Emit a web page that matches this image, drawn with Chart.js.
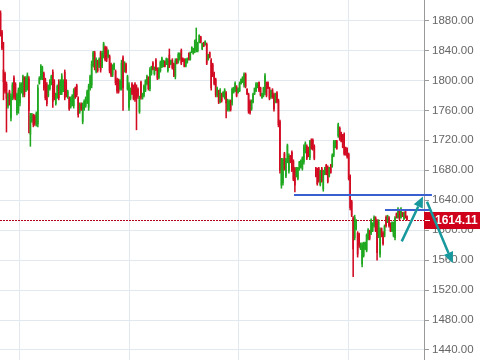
<!DOCTYPE html>
<html><head><meta charset="utf-8">
<script src="https://cdn.jsdelivr.net/npm/chart.js@4"></script>
<style>html,body{margin:0;padding:0;background:#fff}#c{display:block}</style>
</head><body>
<canvas id="c" width="480" height="360"></canvas>
<script>
// ---- data ----
const openP = [
1890,1865,1814,1809,1795,1766,1785,1750,1777,1803,
1795,1757,1760,1770,1785,1781,1803,1787,1790,1802,
1728,1746,1753,1752,1742,1742,1796,1802,1803,1809,
1801,1794,1780,1789,1796,1811,1798,1769,1779,1798,
1783,1784,1787,1811,1798,1778,1776,1765,1768,1766,
1789,1793,1776,1758,1768,1745,1762,1766,1771,1764,
1790,1794,1820,1837,1812,1825,1819,1837,1819,1832,
1844,1843,1832,1832,1821,1807,1815,1812,1801,1800,
1789,1790,1830,1813,1821,1789,1764,1776,1795,1792,
1795,1791,1788,1758,1797,1776,1780,1787,1796,1803,
1789,1809,1823,1809,1827,1815,1804,1813,1819,1819,
1825,1822,1813,1834,1822,1827,1821,1805,1828,1825,
1829,1840,1829,1828,1819,1824,1836,1828,1838,1836,
1839,1841,1840,1851,1858,1842,1850,1848,1848,1828,
1837,1827,1821,1809,1801,1780,1785,1772,1782,1779,
1777,1783,1761,1761,1772,1770,1784,1786,1791,1784,
1786,1796,1798,1794,1808,1788,1781,1772,1762,1771,
1782,1786,1791,1797,1790,1777,1780,1784,1796,1797,
1790,1778,1787,1781,1771,1783,1773,1745,1660,1663,
1702,1672,1692,1679,1699,1704,1692,1682,1672,1669,
1682,1684,1682,1691,1705,1712,1710,1697,1720,1720,
1712,1683,1681,1682,1661,1682,1655,1675,1687,1684,
1672,1687,1686,1700,1711,1719,1726,1736,1730,1727,
1728,1710,1709,1701,1672,1638,1616,1590,1602,1596,
1594,1575,1555,1566,1575,1573,1589,1599,1596,1599,
1606,1616,1612,1592,1568,1602,1596,1593,1617,1611,
1616,1609,1599,1593,1590,1622,1617,1627,1617,1623,
1615,1625,1618];
const highP = [
1893,1867,1851,1811,1798,1783,1787,1782,1797,1806,
1797,1783,1790,1797,1797,1807,1805,1805,1810,1805,
1756,1756,1755,1754,1758,1794,1805,1821,1819,1811,
1803,1797,1794,1801,1807,1814,1801,1783,1794,1801,
1801,1809,1801,1814,1801,1787,1778,1778,1781,1789,
1791,1795,1778,1770,1770,1770,1774,1778,1787,1795,
1807,1826,1839,1839,1830,1827,1830,1839,1839,1851,
1846,1845,1841,1834,1823,1821,1823,1814,1803,1802,
1801,1827,1833,1825,1823,1807,1797,1790,1797,1794,
1797,1794,1790,1779,1799,1783,1794,1801,1807,1805,
1817,1819,1825,1818,1829,1817,1817,1826,1831,1827,
1826,1830,1829,1842,1827,1829,1823,1829,1829,1837,
1837,1842,1830,1829,1829,1830,1837,1838,1845,1843,
1854,1870,1851,1861,1859,1850,1851,1853,1850,1835,
1838,1829,1823,1811,1803,1791,1787,1789,1783,1785,
1789,1785,1775,1774,1774,1790,1791,1798,1793,1790,
1798,1802,1805,1810,1810,1789,1783,1774,1774,1783,
1790,1797,1797,1798,1791,1783,1791,1809,1798,1798,
1791,1787,1789,1783,1783,1785,1775,1747,1696,1696,
1704,1696,1715,1702,1700,1706,1694,1684,1684,1684,
1692,1694,1698,1714,1718,1714,1711,1720,1722,1722,
1714,1684,1683,1684,1680,1684,1680,1684,1688,1686,
1684,1688,1702,1720,1720,1720,1743,1738,1731,1728,
1730,1711,1710,1703,1674,1640,1618,1620,1614,1598,
1596,1583,1583,1584,1584,1595,1602,1600,1615,1610,
1619,1618,1614,1614,1603,1603,1598,1607,1619,1620,
1618,1610,1611,1611,1618,1623,1630,1628,1630,1624,
1624,1627,1619];
const lowP = [
1859,1841,1774,1783,1731,1763,1767,1746,1774,1775,
1774,1754,1756,1766,1783,1778,1778,1785,1787,1730,
1712,1744,1738,1740,1739,1738,1795,1801,1801,1787,
1774,1766,1778,1787,1794,1764,1774,1767,1776,1774,
1781,1781,1785,1774,1778,1776,1760,1763,1766,1763,
1776,1778,1751,1756,1760,1742,1760,1764,1769,1760,
1787,1790,1818,1814,1810,1811,1817,1811,1817,1830,
1826,1825,1830,1810,1805,1805,1814,1794,1783,1783,
1787,1787,1760,1811,1810,1787,1760,1774,1781,1774,
1772,1734,1776,1756,1775,1775,1778,1785,1794,1787,
1786,1807,1814,1807,1813,1801,1802,1811,1817,1818,
1818,1821,1811,1817,1821,1815,1805,1802,1822,1823,
1827,1821,1825,1818,1818,1823,1827,1827,1837,1835,
1837,1838,1838,1850,1850,1841,1845,1847,1821,1827,
1830,1787,1805,1794,1778,1778,1769,1770,1771,1778,
1775,1750,1759,1759,1759,1767,1783,1785,1778,1783,
1785,1795,1797,1791,1790,1781,1756,1755,1760,1770,
1781,1785,1790,1785,1779,1776,1778,1781,1778,1789,
1774,1776,1776,1759,1770,1770,1738,1676,1656,1660,
1680,1670,1690,1676,1690,1678,1666,1651,1671,1667,
1680,1683,1680,1688,1703,1694,1698,1694,1708,1707,
1694,1671,1660,1664,1659,1664,1652,1674,1674,1663,
1671,1676,1684,1698,1710,1708,1724,1720,1718,1710,
1700,1700,1696,1667,1627,1618,1538,1587,1600,1564,
1577,1574,1551,1564,1574,1571,1587,1587,1594,1598,
1604,1598,1560,1590,1564,1591,1580,1591,1604,1610,
1604,1598,1598,1591,1587,1616,1616,1614,1616,1618,
1614,1616,1613];
const closeP = [
1862,1843,1798,1786,1776,1781,1770,1779,1794,1778,
1777,1781,1787,1794,1795,1805,1781,1803,1807,1760,
1752,1754,1741,1743,1756,1790,1803,1819,1817,1790,
1777,1769,1792,1799,1805,1772,1777,1781,1792,1777,
1798,1806,1799,1777,1781,1785,1762,1776,1779,1786,
1778,1781,1754,1768,1762,1767,1772,1776,1785,1792,
1805,1822,1837,1817,1828,1813,1828,1814,1836,1849,
1828,1827,1839,1813,1807,1819,1822,1797,1786,1785,
1799,1823,1790,1823,1812,1805,1794,1788,1783,1776,
1775,1778,1779,1777,1778,1782,1792,1799,1805,1789,
1814,1818,1815,1816,1815,1803,1815,1824,1829,1826,
1819,1829,1827,1819,1826,1817,1807,1826,1823,1835,
1836,1823,1826,1819,1828,1829,1828,1837,1844,1842,
1852,1855,1849,1860,1851,1849,1846,1852,1823,1834,
1831,1790,1807,1796,1781,1789,1771,1787,1773,1784,
1787,1770,1773,1772,1761,1788,1790,1796,1780,1789,
1796,1801,1804,1808,1792,1782,1759,1757,1772,1781,
1789,1795,1796,1787,1781,1782,1790,1806,1780,1790,
1776,1786,1778,1762,1781,1772,1741,1680,1693,1694,
1683,1694,1713,1699,1691,1680,1668,1660,1683,1683,
1691,1693,1696,1711,1716,1696,1699,1718,1710,1709,
1696,1672,1662,1666,1678,1666,1678,1683,1675,1665,
1683,1677,1700,1718,1719,1709,1741,1722,1719,1711,
1702,1701,1698,1669,1630,1620,1575,1617,1612,1568,
1580,1582,1580,1582,1583,1593,1600,1589,1613,1608,
1617,1600,1570,1611,1600,1592,1582,1605,1606,1619,
1606,1599,1610,1609,1616,1617,1628,1616,1628,1619,
1623,1617,1614.11];
const yTickValues = [1440,1480,1520,1560,1600,1640,1680,1720,1760,1800,1840,1880];
const xGridValues = [12.4, 86, 159.6, 233.2];           // period separators (candle index)
const hLines = [ {from:196.4, to:288.7, price:1647},    // blue levels
                 {from:257.3, to:288.1, price:1627} ];
const arrowsData = [ {x1:268.5, y1:1585, x2:282.7, y2:1645},
                     {x1:285.4, y1:1638, x2:302.6, y2:1556} ];

// ---- styles ----
const GREEN = '#1fa81f', RED = '#d20a22', GRID = '#e1e8ef', TEAL = '#17989c', BLUE = '#3a5fd0';

const idx = openP.map((_, i) => i);
const colors = idx.map(i => closeP[i] >= openP[i] ? GREEN : RED);
const lastPrice = closeP[closeP.length - 1];

function drawArrow(ctx, x1, y1, x2, y2) {
  const a = Math.atan2(y2 - y1, x2 - x1), hl = 11, hw = 5;
  const bx = x2 - hl * Math.cos(a), by = y2 - hl * Math.sin(a);
  ctx.strokeStyle = TEAL; ctx.lineWidth = 2.5; ctx.lineCap = 'butt';
  ctx.beginPath(); ctx.moveTo(x1, y1); ctx.lineTo(bx, by); ctx.stroke();
  ctx.fillStyle = TEAL; ctx.beginPath();
  ctx.moveTo(x2, y2);
  ctx.lineTo(bx + hw * Math.sin(a), by - hw * Math.cos(a));
  ctx.lineTo(bx - hw * Math.sin(a), by + hw * Math.cos(a));
  ctx.closePath(); ctx.fill();
}

const overlay = {
  id: 'overlay',
  beforeDatasetsDraw(chart) {
    const {ctx, chartArea: ca, scales: {y}} = chart;
    const py = Math.round(y.getPixelForValue(lastPrice)) + 0.5;
    ctx.save();
    ctx.strokeStyle = '#b5001c'; ctx.lineWidth = 1; ctx.setLineDash([2, 1]);
    ctx.beginPath(); ctx.moveTo(ca.left, py); ctx.lineTo(ca.right, py); ctx.stroke();
    ctx.restore();
  },
  afterDraw(chart) {
    const {ctx, chartArea: ca, scales: {x, y}} = chart;
    ctx.save();
    // blue horizontal levels
    ctx.strokeStyle = BLUE; ctx.lineWidth = 2;
    hLines.forEach(l => {
      const py = y.getPixelForValue(l.price);
      ctx.beginPath(); ctx.moveTo(x.getPixelForValue(l.from), py); ctx.lineTo(x.getPixelForValue(l.to), py); ctx.stroke();
    });
    // last price label
    const py = Math.round(y.getPixelForValue(lastPrice));
    ctx.fillStyle = '#d0021b';
    ctx.fillRect(ca.right, py - 8, chart.width - ca.right, 17);
    ctx.strokeStyle = '#fff'; ctx.lineWidth = 1;
    ctx.beginPath(); ctx.moveTo(ca.right + 1, py + 0.5); ctx.lineTo(ca.right + 6, py + 0.5); ctx.stroke();
    ctx.fillStyle = '#fff'; ctx.font = 'bold 12px "Liberation Sans", Arial, sans-serif';
    ctx.textBaseline = 'middle'; ctx.textAlign = 'left';
    ctx.fillText(lastPrice.toFixed(2), ca.right + 11, py + 1);
    // arrows
    arrowsData.forEach(a => drawArrow(ctx,
      x.getPixelForValue(a.x1), y.getPixelForValue(a.y1),
      x.getPixelForValue(a.x2), y.getPixelForValue(a.y2)));
    ctx.restore();
  }
};

new Chart(document.getElementById('c'), {
  type: 'bar',
  data: {
    datasets: [
      { data: idx.map(i => ({x: i, y: [lowP[i], highP[i]]})), backgroundColor: colors,
        barThickness: 0.9, grouped: false, borderWidth: 0 },
      { data: idx.map(i => ({x: i, y: [openP[i], closeP[i]]})), backgroundColor: colors,
        barThickness: 1, grouped: false, borderWidth: 0 }
    ]
  },
  options: {
    responsive: false, animation: false, devicePixelRatio: 1,
    layout: { padding: 0 },
    plugins: { legend: {display: false}, tooltip: {enabled: false} },
    scales: {
      x: {
        type: 'linear', min: -0.33, max: 283.4, offset: false,
        ticks: {display: false}, border: {display: false},
        grid: {color: GRID, drawTicks: false, offset: false, lineWidth: 1},
        afterBuildTicks: s => { s.ticks = xGridValues.map(v => ({value: v})); },
        afterFit: s => { s.height = 0; s.paddingLeft = 0; s.paddingRight = 0; }
      },
      y: {
        type: 'linear', position: 'right', min: 1426.6, max: 1907.4,
        afterBuildTicks: s => { s.ticks = yTickValues.map(v => ({value: v})); },
        ticks: { color: '#666', padding: 3,
          font: {family: '"Liberation Sans", Arial, sans-serif', size: 11.5},
          callback: v => Number(v).toFixed(2) },
        grid: {color: GRID, tickColor: '#999', tickLength: 5, lineWidth: 1},
        border: {display: true, color: '#999'},
        afterFit: s => { s.width = 56; s.paddingTop = 0; s.paddingBottom = 0; }
      }
    }
  },
  plugins: [overlay]
});
</script>
</body></html>
